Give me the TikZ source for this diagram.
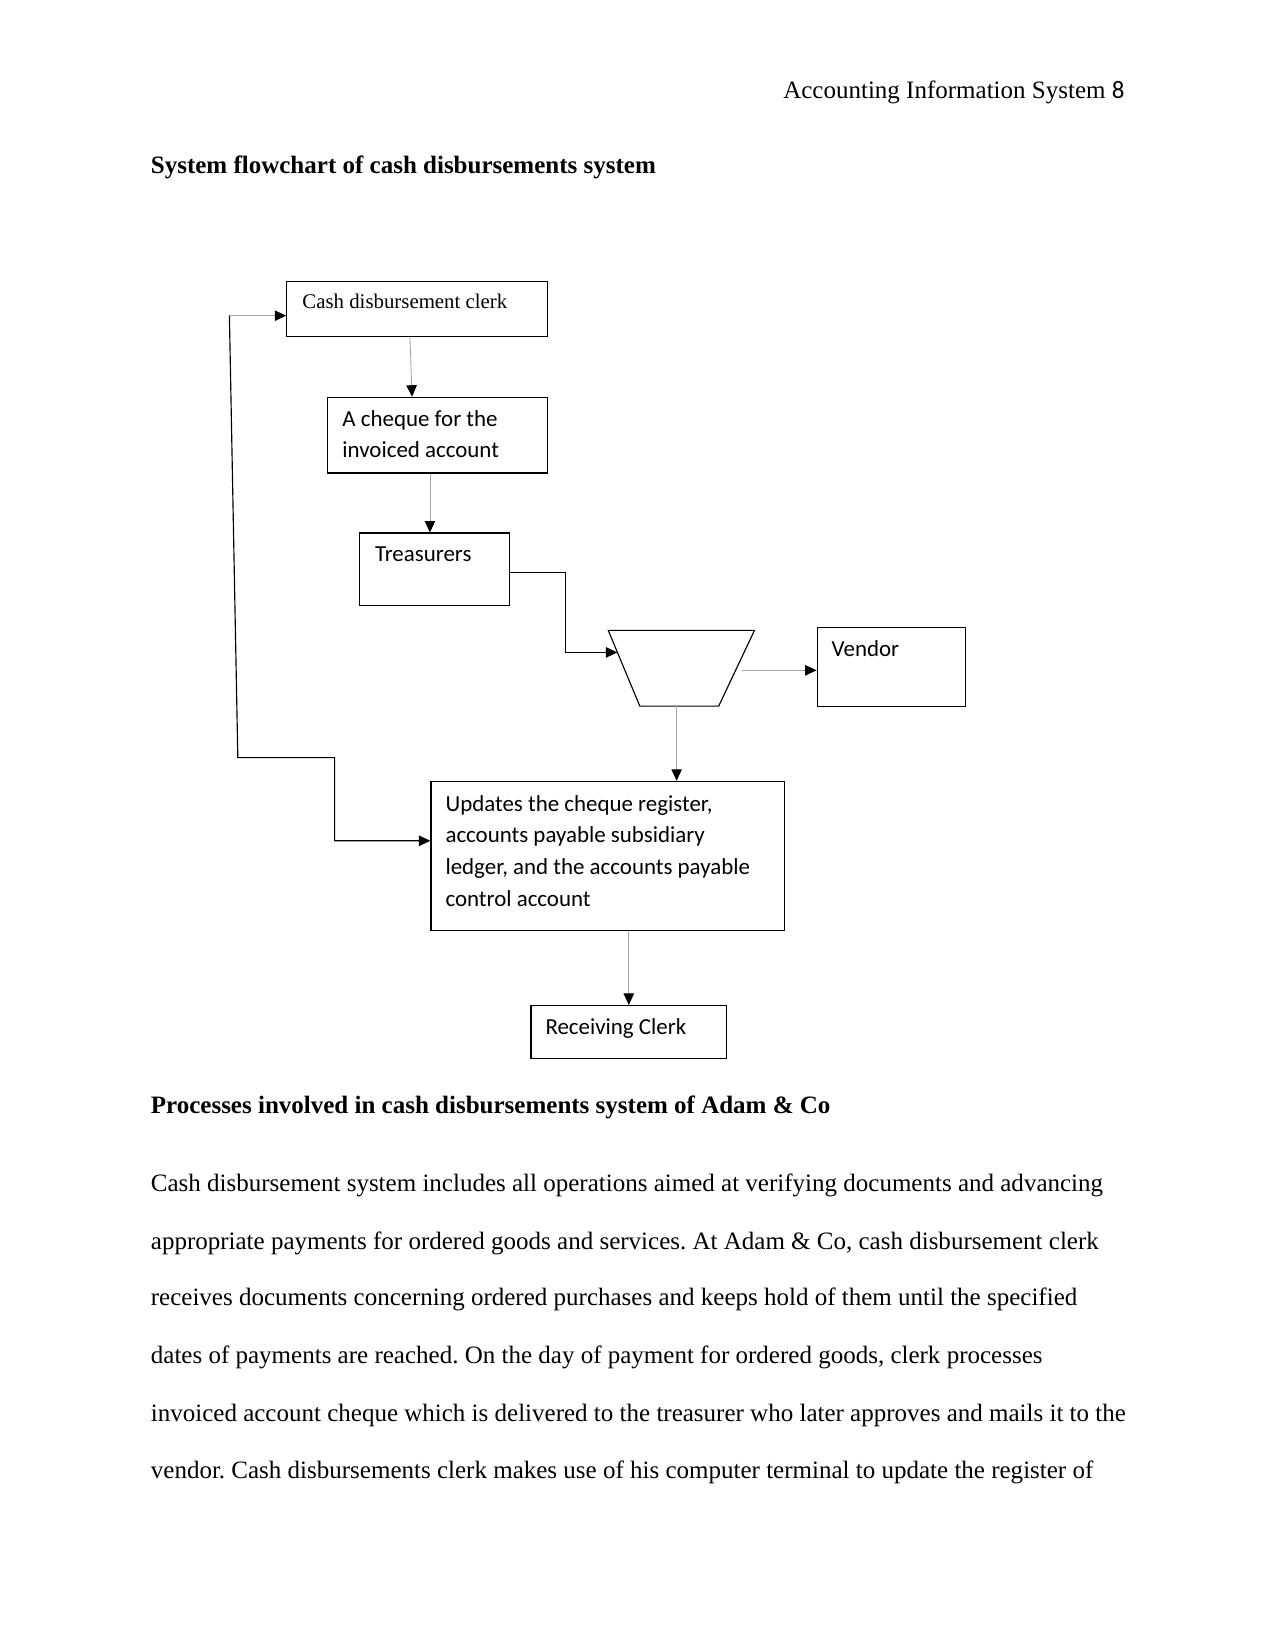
\documentclass[tikz,border=0pt]{standalone}
\usepackage{fontspec}
\setmainfont{Liberation Serif}
\newfontfamily\calibri{Carlito}
\usetikzlibrary{arrows.meta,calc}
\frenchspacing
\begin{document}
\begin{tikzpicture}[x=0.50495pt,y=-0.50495pt,
  box/.style={draw=black,line width=0.55pt,rectangle,inner sep=0pt,anchor=north west},
  lbl/.style={inner sep=0pt,anchor=base west,font=\calibri\fontsize{11}{13}\selectfont},
  txt/.style={inner sep=0pt,anchor=base west,font=\fontsize{12}{14}\selectfont},
  tip/.style={-{Triangle[length=5.5pt,width=5pt,color=black]}},
  thin gray/.style={draw=gray!70,line width=0.4pt},
  dark/.style={draw=black,line width=0.55pt}]
\useasboundingbox (0,0) rectangle (1212,1568);
\fill[white] (0,0) rectangle (1212,1568);
% header and title
\node[inner sep=0pt,anchor=base east,font=\fontsize{12}{14}\selectfont] (hdr) at (1069,94) {Accounting Information System {\calibri 8}};
\node[txt,font=\fontsize{12}{14}\selectfont\bfseries] (title) at (143,165) {System flowchart of cash disbursements system};
% boxes
\node[box,minimum width=248*0.50495pt,minimum height=52*0.50495pt] (clerk) at (272,267) {};
\node[inner sep=0pt,anchor=base west,font=\fontsize{10}{12}\selectfont] (clerkt) at (287,293) {Cash disbursement clerk};
\node[box,minimum width=209*0.50495pt,minimum height=72*0.50495pt] (cheque) at (311,377) {};
\node[lbl] (chequet1) at (325,405) {A cheque for the};
\node[lbl] (chequet2) at (325,435) {invoiced account};
\node[box,minimum width=143*0.50495pt,minimum height=69*0.50495pt] (treas) at (341,506) {};
\node[lbl] (treast) at (356,534) {Treasurers};
% trapezoid (drawn directly)
\draw[dark] (578,599) -- (717,599) -- (683,671) -- (608,671) -- cycle;
\coordinate (trapL) at (586.7,620);
\coordinate (trapR) at (705,637);
\coordinate (trapB) at (643,671);
\node[box,minimum width=141*0.50495pt,minimum height=75*0.50495pt] (vendor) at (776,596) {};
\node[lbl] (vendort) at (790,624) {Vendor};
\node[box,minimum width=336*0.50495pt,minimum height=142*0.50495pt] (update) at (409,742) {};
\node[lbl] (updt1) at (423,771) {Updates the cheque register,};
\node[lbl] (updt2) at (423,801) {accounts payable subsidiary};
\node[lbl] (updt3) at (423,831) {ledger, and the accounts payable};
\node[lbl] (updt4) at (423,861) {control account};
\node[box,minimum width=186*0.50495pt,minimum height=50*0.50495pt] (recv) at (504,955) {};
\node[lbl] (recvt) at (518,983) {Receiving Clerk};
% connectors
\draw[thin gray,tip] ($(clerk.south)+(-7,0)$) -- ($(cheque.north)+(-24.5,0)$);
\draw[thin gray,tip] ($(cheque.south)+(-7.5,0)$) -- ($(treas.north)+(-4.5,0)$);
\coordinate (tc) at (537,544);
\draw[dark,tip] (treas.east |- tc) -- (tc) |- (trapL);
\draw[thin gray,tip] (trapR) -- (vendor.west |- trapR);
\draw[thin gray,tip] (trapB) -- (update.north -| trapB);
\draw[thin gray,tip] (recv.north |- update.south) -- (recv.north);
\coordinate (lp1) at (218,300);
\coordinate (lp2) at (226,720);
\coordinate (lp3) at (318,720);
\coordinate (lp4) at (318,799);
\draw[thin gray,tip] (lp1) -- (clerk.west |- lp1);
\draw[dark,tip] (lp1) -- (lp2) -- (lp3) -- (lp4) -- (update.west |- lp4);
% lower text
\node[txt,font=\fontsize{12}{14}\selectfont\bfseries] (proc) at (143,1058) {Processes involved in cash disbursements system of Adam \& Co};
\node[txt] (p1) at (143,1132) {Cash disbursement system includes all operations aimed at verifying documents and advancing};
\node[txt] (p2) at (143,1187) {appropriate payments for ordered goods and services. At Adam \& Co, cash disbursement clerk};
\node[txt] (p3) at (143,1241) {receives documents concerning ordered purchases and keeps hold of them until the specified};
\node[txt] (p4) at (143,1296) {dates of payments are reached. On the day of payment for ordered goods, clerk processes};
\node[txt] (p5) at (143,1351) {invoiced account cheque which is delivered to the treasurer who later approves and mails it to the};
\node[txt] (p6) at (143,1405) {vendor. Cash disbursements clerk makes use of his computer terminal to update the register of};
\end{tikzpicture}
\end{document}
